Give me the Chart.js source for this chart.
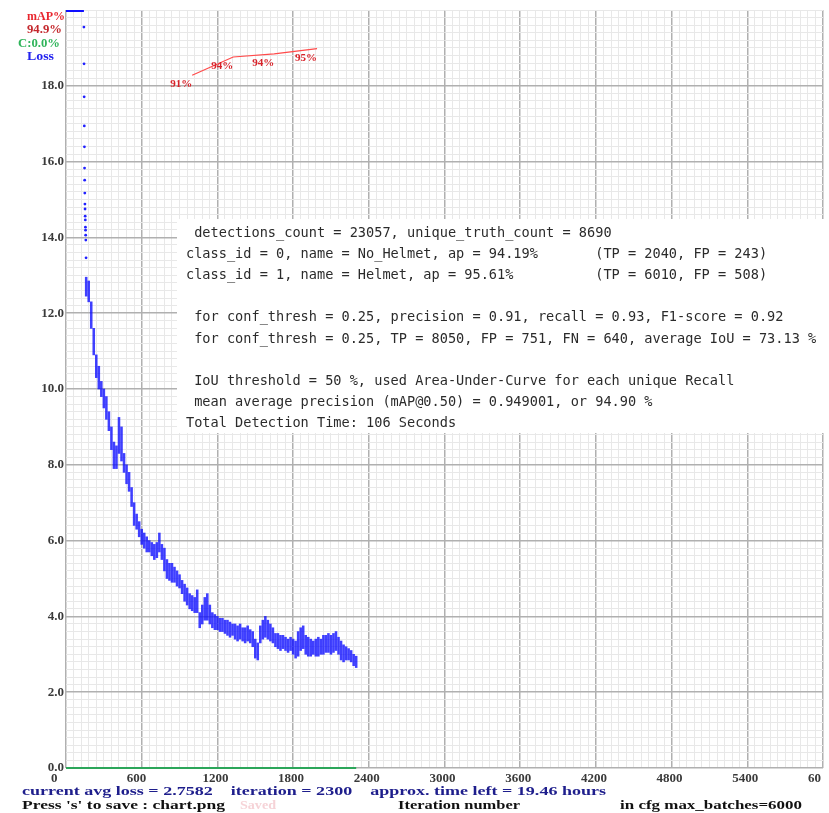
<!DOCTYPE html>
<html>
<head>
<meta charset="utf-8">
<script src="https://cdn.jsdelivr.net/npm/chart.js@4.4.0/dist/chart.umd.min.js"></script>
<style>
  html, body { margin: 0; padding: 0; background: #fff; }
  #chart { display: block; }
</style>
</head>
<body>
<canvas id="chart" width="829" height="813"></canvas>
<script>
// loss band (low / high edge of the dots)
var lossIter = [160,180,200,220,240,260,280,300,320,340,360,380,400,420,440,460,480,500,520,540,
  560,580,600,620,640,660,680,700,720,740,760,780,800,820,840,860,880,900,920,940,
  960,980,1000,1020,1040,1060,1080,1100,1120,1140,1160,1180,1200,1220,1240,1260,1280,1300,1320,1340,
  1360,1380,1400,1420,1440,1460,1480,1500,1520,1540,1560,1580,1600,1620,1640,1660,1680,1700,1720,1740,
  1760,1780,1800,1820,1840,1860,1880,1900,1920,1940,1960,1980,2000,2020,2040,2060,2080,2100,2120,2140,
  2160,2180,2200,2220,2240,2260,2280,2300];
var lossLow = [12.45,12.3,11.6,10.9,10.3,10.0,9.8,9.5,9.2,8.9,8.4,7.9,7.9,8.3,8.1,7.8,7.5,7.3,6.9,6.4,
  6.3,6.1,5.9,5.8,5.7,5.7,5.6,5.5,5.55,5.7,5.5,5.2,5.0,4.95,4.9,4.9,4.8,4.75,4.6,4.4,
  4.3,4.2,4.15,4.1,4.1,3.7,3.8,3.9,3.9,3.8,3.7,3.65,3.65,3.6,3.6,3.55,3.5,3.45,3.5,3.4,
  3.35,3.4,3.35,3.3,3.35,3.3,3.2,2.9,2.85,3.3,3.4,3.45,3.4,3.35,3.3,3.2,3.15,3.1,3.15,3.1,
  3.05,3.1,3.0,2.9,2.95,3.1,3.15,3.0,2.95,2.95,3.0,2.95,2.95,3.0,3.0,3.05,3.05,3.0,3.05,3.1,
  3.0,2.85,2.8,2.85,2.85,2.8,2.7,2.65];
var lossHigh = [12.95,12.85,12.3,11.6,10.9,10.6,10.2,10.0,9.8,9.4,9.0,8.6,8.5,9.25,9.0,8.3,8.0,7.8,7.4,7.0,
  6.7,6.5,6.3,6.2,6.1,6.0,5.95,5.9,5.95,6.2,5.9,5.8,5.5,5.4,5.4,5.3,5.2,5.1,4.95,4.85,
  4.75,4.6,4.55,4.5,4.7,4.1,4.3,4.5,4.6,4.3,4.1,4.05,4.0,3.95,3.95,3.9,3.9,3.85,3.8,3.8,
  3.75,3.8,3.7,3.7,3.75,3.65,3.6,3.4,3.3,3.75,3.9,4.0,3.9,3.8,3.7,3.55,3.55,3.5,3.5,3.45,
  3.4,3.45,3.4,3.35,3.6,3.7,3.75,3.5,3.45,3.4,3.35,3.4,3.45,3.4,3.5,3.5,3.55,3.5,3.55,3.6,
  3.45,3.35,3.25,3.2,3.15,3.1,3.0,2.95];

// first visible iterations, single dots falling from the top
var earlyIter = [142,143,144,145,146,147,148,149,150,151,152,153,154,155,156,157,159];
var earlyLoss = [19.55,18.58,17.71,16.94,16.39,15.83,15.51,15.17,14.88,14.75,14.56,14.46,14.27,14.19,14.06,13.93,13.46];

// loss above the top of the chart is pinned to the top edge
var clippedIter = [0, 142];
var clippedLoss = [20, 20];

var mapIter = [1000, 1325, 1650, 1990];
var mapValues = [91.4, 93.8, 94.2, 94.9];

var cIter = [0, 2300];
var cValues = [0, 0];

var xTickLabels = ['0','600','1200','1800','2400','3000','3600','4200','4800','5400','60'];
var yTickLabels = ['0.0','2.0','4.0','6.0','8.0','10.0','12.0','14.0','16.0','18.0'];

var statsLines = [
  ' detections_count = 23057, unique_truth_count = 8690',
  'class_id = 0, name = No_Helmet, ap = 94.19%       (TP = 2040, FP = 243)',
  'class_id = 1, name = Helmet, ap = 95.61%          (TP = 6010, FP = 508)',
  '',
  ' for conf_thresh = 0.25, precision = 0.91, recall = 0.93, F1-score = 0.92',
  ' for conf_thresh = 0.25, TP = 8050, FP = 751, FN = 640, average IoU = 73.13 %',
  '',
  ' IoU threshold = 50 %, used Area-Under-Curve for each unique Recall',
  ' mean average precision (mAP@0.50) = 0.949001, or 94.90 %',
  'Total Detection Time: 106 Seconds'
];

var currentLoss = 2.7582;
var currentIter = 2300;
var hoursLeft = 19.46;
var maxBatches = 6000;

function isMult(v, step) {
  var q = v / step;
  return Math.abs(q - Math.round(q)) < 1e-6;
}

// squeeze/stretch a text to a given width, like the resized opencv text
function fitText(ctx, text, x, y, w) {
  var m = ctx.measureText(text).width;
  ctx.save();
  ctx.translate(x, y);
  ctx.scale(w / m, 1);
  ctx.fillText(text, 0, 0);
  ctx.restore();
}

var overlay = {
  id: 'overlay',
  afterDatasetsDraw: function(chart) {
    var ctx = chart.ctx;
    var xs = chart.scales.x, ym = chart.scales.yMap;
    ctx.save();
    ctx.font = 'bold 11px "Liberation Serif"';
    ctx.fillStyle = '#d8232a';
    ctx.textAlign = 'right';
    ctx.textBaseline = 'middle';
    for (var i = 0; i < mapIter.length; i++) {
      var px = xs.getPixelForValue(mapIter[i]);
      var py = ym.getPixelForValue(mapValues[i]);
      ctx.fillText(Math.round(mapValues[i]) + '%', px, py + 9);
    }
    ctx.restore();
  },
  afterDraw: function(chart) {
    var ctx = chart.ctx;
    ctx.save();
    ctx.textBaseline = 'middle';
    ctx.textAlign = 'left';

    // legend in the top left corner
    ctx.font = 'bold 13px "Liberation Serif"';
    ctx.fillStyle = '#e8262e';
    fitText(ctx, 'mAP%', 27, 17, 38);
    ctx.fillStyle = '#c4282d';
    fitText(ctx, mapValues[mapValues.length - 1].toFixed(1) + '%', 27, 30, 35);
    ctx.fillStyle = '#2fb45a';
    fitText(ctx, 'C:' + cValues[cValues.length - 1].toFixed(1) + '%', 18, 44, 42);
    ctx.fillStyle = '#2222ee';
    fitText(ctx, 'Loss', 27, 57, 27);

    // status lines under the axis
    ctx.font = 'bold 12.5px "Liberation Serif"';
    ctx.fillStyle = '#1e1e8c';
    fitText(ctx, 'current avg loss = ' + currentLoss.toFixed(4) + '    iteration = ' + currentIter +
      '    approx. time left = ' + hoursLeft.toFixed(2) + ' hours', 22, 792, 584);
    ctx.fillStyle = '#111';
    fitText(ctx, "Press 's' to save : chart.png", 22, 806, 203);
    ctx.fillStyle = '#f6d3d7';
    fitText(ctx, 'Saved', 240, 806, 36);
    ctx.fillStyle = '#111';
    fitText(ctx, 'Iteration number', 398, 806, 122);
    fitText(ctx, 'in cfg max_batches=' + maxBatches, 620, 806, 182);

    // pasted evaluation output
    ctx.fillStyle = '#fff';
    ctx.fillRect(177, 219, 650, 214);
    ctx.fillStyle = '#2b2b2b';
    ctx.font = '13.6px "DejaVu Sans Mono"';
    for (var i = 0; i < statsLines.length; i++) {
      ctx.fillText(statsLines[i], 186, 233 + i * 21.2);
    }
    ctx.restore();
  }
};

var tickFont = { family: 'Liberation Serif', size: 13, weight: 'bold' };

var ctx = document.getElementById('chart').getContext('2d');
new Chart(ctx, {
  type: 'bar',
  data: {
    datasets: [
      {
        type: 'line',
        label: 'C',
        data: cIter.map(function(it, i) { return { x: it, y: cValues[i] }; }),
        yAxisID: 'yMap',
        borderColor: '#2ca65a',
        borderWidth: 2,
        pointRadius: 0,
        clip: false
      },
      {
        type: 'line',
        label: 'mAP',
        data: mapIter.map(function(it, i) { return { x: it, y: mapValues[i] }; }),
        yAxisID: 'yMap',
        borderColor: '#ff4a4a',
        borderWidth: 1.2,
        pointRadius: 0
      },
      {
        type: 'line',
        label: 'clipped',
        data: clippedIter.map(function(it, i) { return { x: it, y: clippedLoss[i] }; }),
        yAxisID: 'y',
        borderColor: '#1010ff',
        borderWidth: 4,
        pointRadius: 0,
        clip: 0
      },
      {
        type: 'line',
        label: 'early',
        data: earlyIter.map(function(it, i) { return { x: it, y: earlyLoss[i] }; }),
        yAxisID: 'y',
        showLine: false,
        pointRadius: 1.4,
        pointBorderWidth: 0,
        pointBackgroundColor: '#2020ff'
      },
      {
        type: 'bar',
        label: 'Loss',
        data: lossIter.map(function(it, i) { return { x: it, y: [lossLow[i], lossHigh[i]] }; }),
        yAxisID: 'y',
        backgroundColor: 'rgba(10,10,255,0.78)',
        borderWidth: 0,
        barThickness: 1.9
      }
    ]
  },
  options: {
    responsive: false,
    animation: false,
    devicePixelRatio: 1,
    layout: { padding: { left: 0, right: 6, top: 10, bottom: 0 } },
    plugins: { legend: { display: false }, tooltip: { enabled: false } },
    scales: {
      x: {
        type: 'linear',
        min: 0,
        max: 6000,
        offset: false,
        ticks: {
          stepSize: 60,
          autoSkip: false,
          maxRotation: 0,
          minRotation: 0,
          align: 'start',
          labelOffset: -15,
          padding: 3,
          color: '#3a3a3a',
          font: tickFont,
          callback: function(v) {
            return isMult(v, 600) ? xTickLabels[Math.round(v / 600)] : '';
          }
        },
        grid: {
          offset: false,
          drawTicks: false,
          color: function(c) { return isMult(c.tick.value, 600) ? '#b0b0b0' : '#e8e8e8'; },
          lineWidth: function(c) { return isMult(c.tick.value, 600) ? 1.5 : 1; }
        },
        border: { display: false },
        afterFit: function(s) { s.height = 45; s.paddingLeft = 0; s.paddingRight = 0; }
      },
      y: {
        type: 'linear',
        min: 0,
        max: 20,
        ticks: {
          stepSize: 0.2,
          autoSkip: false,
          padding: 2,
          color: '#3a3a3a',
          font: tickFont,
          callback: function(v) {
            return (isMult(v, 2) && v < 19.9) ? yTickLabels[Math.round(v / 2)] : '';
          }
        },
        grid: {
          drawTicks: false,
          color: function(c) {
            var v = c.tick.value;
            return (isMult(v, 2) && v < 19.9) ? '#b0b0b0' : '#e8e8e8';
          },
          lineWidth: function(c) {
            var v = c.tick.value;
            return (isMult(v, 2) && v < 19.9) ? 1.5 : 1;
          }
        },
        border: { display: false },
        afterFit: function(s) { s.width = 66; s.paddingTop = 0; s.paddingBottom = 0; }
      },
      yMap: {
        type: 'linear',
        display: false,
        min: 0,
        max: 100
      }
    }
  },
  plugins: [overlay]
});
</script>
</body>
</html>
